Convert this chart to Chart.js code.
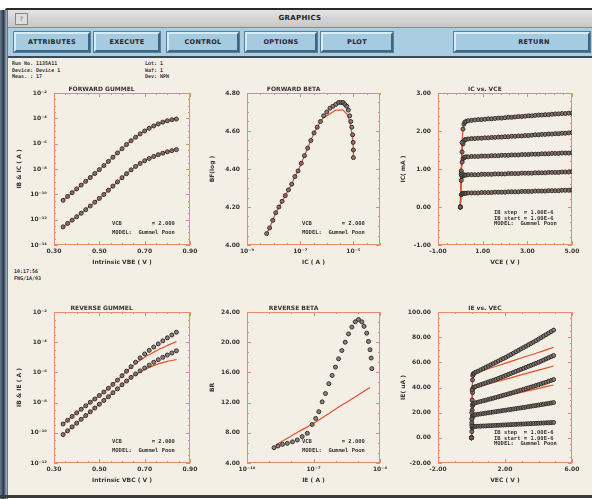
<!DOCTYPE html>
<html>
<head>
<meta charset="utf-8">
<script src="https://cdn.jsdelivr.net/npm/chart.js@4"></script>
<style>
  body { margin:0; width:592px; height:499px; background:#fff; position:relative; overflow:hidden; font-family:"DejaVu Sans", sans-serif; }
  #edge { position:absolute; left:0; top:10px; width:8px; height:489px; background:linear-gradient(90deg,#6c7e94,#2c394c 45%,#9aaabd 80%,#55606e); }
  #topline { position:absolute; left:5px; top:8px; width:587px; height:2px; background:#2a2a2a; border-top-left-radius:4px; }
  #titlebar { position:absolute; left:8px; top:10px; width:584px; height:17px; background:linear-gradient(#e4e4e4,#c6c6c6); border-bottom:1px solid #8a8a8a; text-align:center; font:bold 7px "DejaVu Sans"; line-height:17px; color:#222; letter-spacing:0.3px; }
  #titlebar .sq { position:absolute; left:7px; top:3px; width:11px; height:10px; border:1px solid #888; background:#ddd; font:6px "DejaVu Sans"; line-height:10px; color:#666; }
  #btnbar { position:absolute; left:8px; top:28px; width:584px; height:28px; background:#a9cde1; border-bottom:2px solid #3c4a58; }
  .btn { position:absolute; top:4px; height:16px; background:#a6cbe0; border:2px solid; border-color:#d6ecf7 #3e6582 #3e6582 #d6ecf7; box-shadow:0 0 0 1px #5a7d96; font:bold 6.5px "DejaVu Sans"; color:#1c2630; text-align:center; line-height:16px; letter-spacing:0.3px; }
  #content { position:absolute; left:8px; top:58px; width:584px; height:437px; background:#f4efe5; }
  #bottomline { position:absolute; left:0; top:495px; width:592px; height:3px; background:#3a3a3a; }
  .info { position:absolute; font:bold 5px "DejaVu Sans Mono", monospace; line-height:6.5px; color:#333; white-space:pre; }
  canvas { position:absolute; }
</style>
</head>
<body>
<div id="content"></div>
<div id="edge"></div>
<div id="topline"></div>
<div id="titlebar"><div class="sq">?</div>GRAPHICS</div>
<div id="btnbar">
  <div class="btn" style="left:6px;width:72px">ATTRIBUTES</div>
  <div class="btn" style="left:86px;width:62px">EXECUTE</div>
  <div class="btn" style="left:159px;width:68px">CONTROL</div>
  <div class="btn" style="left:237px;width:68px">OPTIONS</div>
  <div class="btn" style="left:313px;width:68px">PLOT</div>
  <div class="btn" style="left:446px;width:108px;padding-left:24px">RETURN</div>
</div>
<div id="bottomline"></div>
<div class="info" style="left:12px;top:60px">Run No. 1135A11
Device: Device 1
Meas. : 17</div>
<div class="info" style="left:145px;top:60px">Lot: 1
Waf: 1
Dev: NPN</div>
<div class="info" style="left:14px;top:268px">10:17:56
FNG/1A/03</div>

<script>
// ---------- data ----------
// Forward Gummel: VBE (V) vs log10 of current (A)
const fgVbe   = [0.34,0.36,0.38,0.40,0.42,0.44,0.46,0.48,0.50,0.52,0.54,0.56,0.58,0.60,0.62,0.64,0.66,0.68,0.70,0.72,0.74,0.76,0.78,0.80,0.82,0.84];
const fgIcLog = [-10.47,-10.17,-9.87,-9.57,-9.27,-8.97,-8.67,-8.36,-8.05,-7.73,-7.40,-7.07,-6.73,-6.40,-6.07,-5.77,-5.49,-5.23,-5.00,-4.79,-4.60,-4.44,-4.30,-4.19,-4.11,-4.06];
const fgIbLog = [-12.57,-12.30,-12.04,-11.77,-11.49,-11.21,-10.92,-10.62,-10.32,-10.01,-9.68,-9.35,-9.02,-8.69,-8.37,-8.07,-7.80,-7.56,-7.35,-7.17,-7.01,-6.87,-6.75,-6.64,-6.55,-6.47];

// Forward beta: log10 IC vs BF
const fbIcLog = [-8.26,-8.15,-8.03,-7.92,-7.80,-7.68,-7.56,-7.44,-7.32,-7.20,-7.08,-6.96,-6.84,-6.72,-6.60,-6.48,-6.36,-6.24,-6.12,-6.00,-5.88,-5.77,-5.66,-5.56,-5.47,-5.39,-5.32,-5.25,-5.19,-5.14,-5.10,-5.06,-5.03,-5.01,-5.00,-5.00];
const fbBeta  = [4.06,4.09,4.13,4.17,4.20,4.23,4.26,4.29,4.32,4.36,4.39,4.43,4.47,4.51,4.55,4.59,4.62,4.65,4.68,4.70,4.72,4.73,4.74,4.75,4.75,4.75,4.74,4.73,4.71,4.68,4.65,4.62,4.58,4.54,4.50,4.46];
const fbModel = [4.06,4.09,4.13,4.17,4.20,4.23,4.26,4.29,4.32,4.36,4.39,4.43,4.47,4.51,4.55,4.59,4.62,4.65,4.67,4.68,4.69,4.70,4.71,4.71,4.71,4.71,4.70,4.69,4.67,4.65,4.62,4.59,4.56,4.52,4.49,4.46];

// IC vs VCE (mA), five base-current steps
const foVce = [0,0.04,0.08,0.12,0.16,0.20,0.25,0.35,0.5,0.65,0.8,0.95,1.1,1.25,1.4,1.55,1.7,1.85,2.0,2.15,2.3,2.45,2.6,2.75,2.9,3.05,3.2,3.35,3.5,3.65,3.8,3.95,4.1,4.25,4.4,4.55,4.7,4.85,5.0];
const foIc1 = [0.00,0.95,1.70,2.05,2.18,2.23,2.25,2.27,2.28,2.29,2.30,2.30,2.31,2.32,2.32,2.33,2.34,2.34,2.35,2.36,2.36,2.37,2.38,2.38,2.39,2.40,2.40,2.41,2.42,2.42,2.43,2.43,2.44,2.45,2.45,2.46,2.46,2.47,2.47];
const foIc2 = [0.00,0.90,1.45,1.66,1.74,1.77,1.78,1.79,1.80,1.80,1.81,1.81,1.82,1.82,1.83,1.83,1.84,1.84,1.85,1.85,1.86,1.86,1.87,1.87,1.88,1.88,1.89,1.90,1.90,1.91,1.91,1.92,1.92,1.93,1.93,1.94,1.94,1.95,1.96];
const foIc3 = [0.00,0.85,1.18,1.27,1.30,1.31,1.32,1.32,1.33,1.33,1.33,1.34,1.34,1.34,1.35,1.35,1.35,1.36,1.36,1.36,1.37,1.37,1.37,1.38,1.38,1.38,1.39,1.39,1.39,1.40,1.40,1.40,1.41,1.41,1.41,1.42,1.42,1.42,1.43];
const foIc4 = [0.00,0.70,0.80,0.83,0.84,0.84,0.84,0.85,0.85,0.85,0.85,0.86,0.86,0.86,0.86,0.87,0.87,0.87,0.87,0.88,0.88,0.88,0.88,0.89,0.89,0.89,0.89,0.90,0.90,0.90,0.90,0.91,0.91,0.91,0.91,0.92,0.92,0.92,0.93];
const foIc5 = [0.00,0.32,0.35,0.36,0.36,0.36,0.36,0.37,0.37,0.37,0.37,0.38,0.38,0.38,0.38,0.39,0.39,0.39,0.39,0.40,0.40,0.40,0.40,0.41,0.41,0.41,0.41,0.42,0.42,0.42,0.42,0.43,0.43,0.43,0.43,0.44,0.44,0.44,0.45];

// Reverse Gummel: VBC (V) vs log10 of current (A)
const rgVbc     = [0.34,0.36,0.38,0.40,0.42,0.44,0.46,0.48,0.50,0.52,0.54,0.56,0.58,0.60,0.62,0.64,0.66,0.68,0.70,0.72,0.74,0.76,0.78,0.80,0.82,0.84];
const rgIeLog   = [-9.42,-9.17,-8.92,-8.68,-8.44,-8.21,-7.98,-7.76,-7.53,-7.30,-7.05,-6.79,-6.51,-6.22,-5.92,-5.62,-5.32,-5.04,-4.78,-4.54,-4.32,-4.11,-3.91,-3.71,-3.52,-3.34];
const rgIeModel = [-9.42,-9.17,-8.92,-8.68,-8.44,-8.21,-7.98,-7.76,-7.53,-7.30,-7.05,-6.79,-6.51,-6.22,-5.92,-5.66,-5.42,-5.20,-5.00,-4.82,-4.66,-4.50,-4.36,-4.22,-4.09,-3.96];
const rgIbLog   = [-10.12,-9.87,-9.61,-9.36,-9.11,-8.86,-8.61,-8.36,-8.11,-7.86,-7.61,-7.35,-7.09,-6.82,-6.57,-6.33,-6.10,-5.90,-5.71,-5.52,-5.33,-5.16,-5.00,-4.85,-4.71,-4.57];
const rgIbModel = [-10.12,-9.87,-9.61,-9.36,-9.11,-8.86,-8.61,-8.36,-8.11,-7.86,-7.61,-7.35,-7.09,-6.82,-6.57,-6.33,-6.14,-5.97,-5.81,-5.67,-5.55,-5.44,-5.35,-5.27,-5.21,-5.15];

// Reverse beta: log10 IE vs BR
const rbIeLog = [-8.78,-8.60,-8.40,-8.18,-7.95,-7.73,-7.51,-7.28,-7.06,-6.90,-6.76,-6.61,-6.46,-6.31,-6.16,-6.01,-5.87,-5.72,-5.57,-5.42,-5.27,-5.12,-4.97,-4.82,-4.72,-4.60,-4.52,-4.45,-4.40,-4.37];
const rbBeta  = [6.03,6.25,6.47,6.60,6.80,7.05,7.50,7.93,9.10,9.90,10.80,12.10,13.20,14.50,15.60,16.70,17.80,18.90,20.00,21.10,22.00,22.70,23.00,22.70,22.10,21.20,20.10,19.00,17.90,16.50];
const rbModelIeLog = [-8.7,-8.2,-7.7,-7.2,-6.7,-6.2,-5.7,-5.2,-4.7,-4.45];
const rbModel      = [6.4,7.25,8.1,8.9,9.8,10.75,11.7,12.6,13.55,14.0];

// IE vs VEC (uA), five steps
const roVec = [0,0.02,0.04,0.06,0.08,0.10,0.15,0.25,0.4,0.55,0.7,0.85,1.0,1.15,1.3,1.45,1.6,1.75,1.9,2.05,2.2,2.35,2.5,2.65,2.8,2.95,3.1,3.25,3.4,3.55,3.7,3.85,4.0,4.15,4.3,4.45,4.6,4.75,4.9];
const roIe1 = [0,20,38,46,49.5,50.8,51.3,52.2,53.0,54.0,55.0,56.0,57.0,58.0,59.0,60.0,61.0,62.0,63.0,64.0,65.1,66.2,67.3,68.4,69.5,70.6,71.7,72.8,73.9,75.0,76.1,77.2,78.4,79.6,80.8,82.0,83.2,84.4,85.6];
const roIe2 = [0,15,30,36,38.8,39.8,40.2,40.8,41.5,42.2,42.9,43.6,44.3,45.0,45.7,46.4,47.2,48.0,48.8,49.6,50.4,51.2,52.0,52.8,53.6,54.4,55.2,56.0,56.8,57.6,58.4,59.2,60.0,60.9,61.8,62.7,63.6,64.5,65.4];
const roIe3 = [0,12,22,25.5,26.8,27.2,27.4,27.9,28.4,28.9,29.4,29.9,30.5,31.0,31.5,32.1,32.6,33.2,33.8,34.3,34.9,35.5,36.1,36.7,37.3,37.9,38.5,39.1,39.7,40.3,40.9,41.6,42.2,42.9,43.5,44.2,44.9,45.6,46.3];
const roIe4 = [0,10,15.5,17.2,17.8,18.0,18.1,18.4,18.7,19.0,19.3,19.6,19.9,20.2,20.5,20.8,21.1,21.4,21.7,22.0,22.3,22.6,22.9,23.2,23.5,23.8,24.1,24.4,24.8,25.1,25.4,25.7,26.0,26.4,26.7,27.0,27.3,27.7,28.0];
const roIe5 = [0,5,8.0,8.7,8.9,9.0,9.0,9.1,9.2,9.3,9.4,9.5,9.6,9.7,9.8,9.9,10.0,10.1,10.2,10.3,10.4,10.5,10.6,10.7,10.8,10.9,11.0,11.1,11.2,11.3,11.4,11.5,11.6,11.7,11.8,11.9,12.0,12.1,12.2];
const roModelVec = [0,0.02,0.04,0.06,0.1,0.25,1.0,2.0,3.0,4.0,4.9];
const roModel1 = [0,20,38,46,50.8,51.5,54.9,59.2,63.6,67.8,72.0];
const roModel2 = [0,15,30,36,39.8,40.3,42.8,46.4,50.2,53.8,57.1];
const roModel3 = [0,12,22,25.5,27.2,27.8,29.8,33.0,36.3,39.3,42.0];
const roModel4 = [0,10,15.5,17.2,18.0,18.3,19.9,21.9,23.9,26.0,28.0];
const roModel5 = [0,5,8.0,8.7,9.0,9.1,9.6,10.3,11.0,11.6,12.2];

// tick labels
const gummelXTicks = [0.30,0.50,0.70,0.90];
const fgYTicks = [-14,-12,-10,-8,-6,-4,-2];
const rgYTicks = [-12,-10,-8,-6,-4,-2];
const fbXTicks = [-9,-7,-5];
const fbYTicks = [4.0,4.2,4.4,4.6,4.8];
const foXTicks = [-1,1,3,5];
const foYTicks = [-1,0,1,2,3];
const rbXTicks = [-10,-7,-4];
const rbYTicks = [4,8,12,16,20,24];
const roXTicks = [-2,2,6];
const roYTicks = [-20,0,20,40,60,80,100];

// in-plot notes (monospace, padded)
const gummelNotes = ['VCB         = 2.000', 'MODEL:  Gummel Poon'];
const outputNotes = ['IB step  = 1.00E-6', 'IB start = 1.00E-6', 'MODEL:  Gummel Poon'];

// ---------- drawing ----------
const RED = '#e2502c';
const FRAME = '#e68c6c';
const INK = '#3a3434';

Chart.defaults.font.family = '"DejaVu Sans", sans-serif';
Chart.defaults.font.size = 6;
Chart.defaults.font.weight = 'bold';
Chart.defaults.color = INK;

const SUP = {'-':'\u207B','0':'\u2070','1':'\u00B9','2':'\u00B2','3':'\u00B3','4':'\u2074','5':'\u2075','6':'\u2076','7':'\u2077','8':'\u2078','9':'\u2079'};
const pow10 = v => '10' + String(v).split('').map(c => SUP[c] || c).join('');
const fix2 = v => v.toFixed(2);

const pts = (xs, ys) => xs.map((x, i) => ({ x, y: ys[i] }));
const marks = (xs, ys) => ({
  data: pts(xs, ys), showLine: false, order: 0,
  pointRadius: 2, pointBorderWidth: 1,
  pointBorderColor: '#352e2e', pointBackgroundColor: 'rgba(112,102,98,0.8)'
});
const model = (xs, ys) => ({
  data: pts(xs, ys), showLine: true, order: 1,
  borderColor: RED, borderWidth: 1.2, pointRadius: 0, tension: 0.3
});

const framePlugin = {
  id: 'frame',
  beforeDatasetsDraw(chart) {
    const { ctx, chartArea: a, scales: { x, y } } = chart;
    const o = chart.options.plugins.frame;
    ctx.save();
    ctx.strokeStyle = FRAME;
    ctx.lineWidth = 1;
    ctx.strokeRect(a.left + 0.5, a.top + 0.5, a.width - 1, a.height - 1);
    ctx.beginPath();
    const xs = (o.xTicks[1] - o.xTicks[0]) / o.minor;
    const nx = Math.round((x.max - x.min) / xs);
    for (let i = 0; i <= nx; i++) {
      const px = Math.round(x.getPixelForValue(x.min + i * xs)) + 0.5;
      const len = i % o.minor === 0 ? 4 : 2;
      ctx.moveTo(px, a.bottom); ctx.lineTo(px, a.bottom - len);
      ctx.moveTo(px, a.top); ctx.lineTo(px, a.top + len);
    }
    const ys = (o.yTicks[1] - o.yTicks[0]) / o.minor;
    const ny = Math.round((y.max - y.min) / ys);
    for (let i = 0; i <= ny; i++) {
      const py = Math.round(y.getPixelForValue(y.min + i * ys)) + 0.5;
      const len = i % o.minor === 0 ? 4 : 2;
      ctx.moveTo(a.left, py); ctx.lineTo(a.left + len, py);
      ctx.moveTo(a.right, py); ctx.lineTo(a.right - len, py);
    }
    ctx.stroke();
    ctx.restore();
  },
  afterDraw(chart) {
    const { ctx, chartArea: a } = chart;
    const o = chart.options.plugins.frame;
    ctx.save();
    ctx.fillStyle = INK;
    ctx.font = 'bold 6px "DejaVu Sans"';
    ctx.textAlign = 'center';
    ctx.textBaseline = 'alphabetic';
    ctx.fillText(o.title, a.left + a.width * 0.35, a.top - 2);
    ctx.font = 'bold 5.5px "DejaVu Sans Mono"';
    ctx.textAlign = 'left';
    const n = o.notes.length;
    o.notes.forEach((ln, i) => {
      ctx.fillText(ln, a.right - 78, a.bottom - o.noteBase - (n - 1 - i) * o.noteGap);
    });
    ctx.restore();
  }
};

function makePlot(box, s) {
  const cv = document.createElement('canvas');
  const w = (box.r - box.l) + 44 + 8, h = (box.b - box.t) + 12 + 22;
  cv.width = w; cv.height = h;
  cv.style.left = (box.l - 44) + 'px';
  cv.style.top = (box.t - 12) + 'px';
  document.body.appendChild(cv);
  new Chart(cv, {
    type: 'scatter',
    data: { datasets: s.datasets },
    plugins: [framePlugin],
    options: {
      responsive: false, animation: false, devicePixelRatio: 1,
      layout: { padding: { left: 0, top: 12, right: 8, bottom: 0 }, autoPadding: false },
      plugins: {
        legend: { display: false }, tooltip: { enabled: false },
        frame: { title: s.title, xTicks: s.xTicks, yTicks: s.yTicks, minor: s.minor || 5,
                 notes: s.notes, noteGap: s.noteGap, noteBase: s.noteBase }
      },
      scales: {
        x: {
          type: 'linear', min: s.xMin, max: s.xMax,
          grid: { display: false, drawTicks: false }, border: { display: false },
          ticks: { padding: 3, maxRotation: 0, autoSkip: false, callback: s.xFmt },
          afterBuildTicks: sc => { sc.ticks = s.xTicks.map(v => ({ value: v })); },
          afterFit: sc => { sc.height = 22; sc.paddingLeft = 0; sc.paddingRight = 0; },
          title: { display: true, text: s.xTitle, padding: { top: 0, bottom: 1 } }
        },
        y: {
          type: 'linear', min: s.yMin, max: s.yMax,
          grid: { display: false, drawTicks: false }, border: { display: false },
          ticks: { padding: 7, autoSkip: false, callback: s.yFmt },
          afterBuildTicks: sc => { sc.ticks = s.yTicks.map(v => ({ value: v })); },
          afterFit: sc => { sc.width = 44; sc.paddingTop = 0; sc.paddingBottom = 0; },
          title: { display: true, text: s.yTitle, padding: { top: 6, bottom: 0 } }
        }
      }
    }
  });
}

const cols = [{ l: 54, r: 190 }, { l: 247, r: 380 }, { l: 438, r: 572 }];
const rows = [{ t: 93, b: 245 }, { t: 312, b: 463 }];
const box = (c, r) => ({ l: cols[c].l, r: cols[c].r, t: rows[r].t, b: rows[r].b });

makePlot(box(0, 0), {
  title: 'FORWARD GUMMEL', xTitle: 'Intrinsic VBE ( V )', yTitle: 'IB & IC ( A )',
  xMin: 0.3, xMax: 0.9, xTicks: gummelXTicks, xFmt: fix2,
  yMin: -14, yMax: -2, yTicks: fgYTicks, yFmt: pow10, minor: 4,
  notes: gummelNotes, noteGap: 9, noteBase: 11,
  datasets: [model(fgVbe, fgIcLog), model(fgVbe, fgIbLog), marks(fgVbe, fgIcLog), marks(fgVbe, fgIbLog)]
});

makePlot(box(1, 0), {
  title: 'FORWARD BETA', xTitle: 'IC ( A )', yTitle: 'BF(log )',
  xMin: -9, xMax: -4, xTicks: fbXTicks, xFmt: pow10,
  yMin: 4.0, yMax: 4.8, yTicks: fbYTicks, yFmt: fix2, minor: 4,
  notes: gummelNotes, noteGap: 9, noteBase: 11,
  datasets: [model(fbIcLog, fbModel), marks(fbIcLog, fbBeta)]
});

makePlot(box(2, 0), {
  title: 'IC vs. VCE', xTitle: 'VCE ( V )', yTitle: 'IC( mA )',
  xMin: -1, xMax: 5, xTicks: foXTicks, xFmt: fix2,
  yMin: -1, yMax: 3, yTicks: foYTicks, yFmt: fix2, minor: 5,
  notes: outputNotes, noteGap: 5.5, noteBase: 20,
  datasets: [model(foVce, foIc1), model(foVce, foIc2), model(foVce, foIc3), model(foVce, foIc4), model(foVce, foIc5),
             marks(foVce, foIc1), marks(foVce, foIc2), marks(foVce, foIc3), marks(foVce, foIc4), marks(foVce, foIc5)]
});

makePlot(box(0, 1), {
  title: 'REVERSE GUMMEL', xTitle: 'Intrinsic VBC ( V )', yTitle: 'IB & IE ( A )',
  xMin: 0.3, xMax: 0.9, xTicks: gummelXTicks, xFmt: fix2,
  yMin: -12, yMax: -2, yTicks: rgYTicks, yFmt: pow10, minor: 4,
  notes: gummelNotes, noteGap: 9, noteBase: 11,
  datasets: [model(rgVbc, rgIeModel), model(rgVbc, rgIbModel), marks(rgVbc, rgIeLog), marks(rgVbc, rgIbLog)]
});

makePlot(box(1, 1), {
  title: 'REVERSE BETA', xTitle: 'IE ( A )', yTitle: 'BR',
  xMin: -10, xMax: -4, xTicks: rbXTicks, xFmt: pow10,
  yMin: 4, yMax: 24, yTicks: rbYTicks, yFmt: fix2, minor: 3,
  notes: gummelNotes, noteGap: 9, noteBase: 11,
  datasets: [model(rbModelIeLog, rbModel), marks(rbIeLog, rbBeta)]
});

makePlot(box(2, 1), {
  title: 'IE vs. VEC', xTitle: 'VEC ( V )', yTitle: 'IE( uA )',
  xMin: -2, xMax: 6, xTicks: roXTicks, xFmt: fix2,
  yMin: -20, yMax: 100, yTicks: roYTicks, yFmt: fix2, minor: 4,
  notes: outputNotes, noteGap: 5.5, noteBase: 18,
  datasets: [model(roModelVec, roModel1), model(roModelVec, roModel2), model(roModelVec, roModel3), model(roModelVec, roModel4), model(roModelVec, roModel5),
             marks(roVec, roIe1), marks(roVec, roIe2), marks(roVec, roIe3), marks(roVec, roIe4), marks(roVec, roIe5)]
});
</script>
</body>
</html>
